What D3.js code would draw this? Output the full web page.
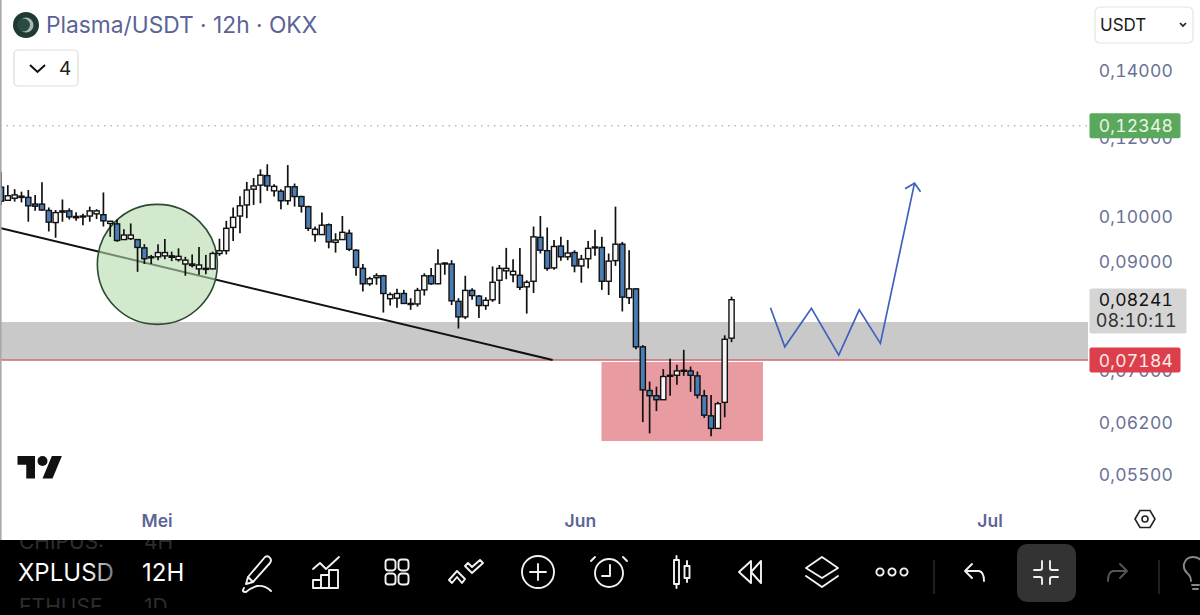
<!DOCTYPE html>
<html>
<head>
<meta charset="utf-8">
<title>Plasma/USDT 12h</title>
<script src="https://cdn.jsdelivr.net/npm/d3@7/dist/d3.min.js"></script>
<style>
  html, body { margin: 0; padding: 0; background: #fff; }
  svg { display: block; }
  text { font-family: Inter, "Noto Sans", sans-serif; }
</style>
</head>
<body>
<svg id="chart" width="1200" height="615"></svg>
<script>
// 12h candles for Plasma/USDT, oldest first
const opens = [
  .1069,.1037,.1042,.1044,.1044,.1028,.1028,.1013,.0985,.1009,
  .1012,.0996,.0998,.1000,.1005,.1003,.0983,.0982,.0947,.0949,
  .0947,.0929,.0908,.0910,.0912,.0909,.0904,.0895,.0892,.0885,
  .0884,.0885,.0917,.0923,.0974,.1000,.1026,.1064,.1074,.1098,
  .1060,.1059,.1036,.1070,.1046,.1022,.0958,.0958,.0980,.0941,
  .0947,.0961,.0924,.0886,.0855,.0867,.0871,.0826,.0827,.0836,
  .0815,.0816,.0843,.0871,.0855,.0895,.0895,.0821,.0792,.0842,
  .0831,.0813,.0824,.0862,.0881,.0873,.0872,.0849,.0860,.0952,
  .0923,.0887,.0933,.0910,.0919,.0891,.0906,.0930,.0930,.0860,
  .0902,.0937,.0828,.0845,.0739,.0668,.0660,.0654,.0691,.0692,
  .0699,.0699,.0691,.0660,.0630,.0612,.0650,.0754];
const highs = [
  .1107,.1074,.1064,.1058,.1062,.1050,.1081,.1020,.1014,.1039,
  .1018,.1009,.1005,.1022,.1016,.1056,.0989,.0992,.0970,.0983,
  .0947,.0937,.0914,.0937,.0948,.0921,.0928,.0910,.0915,.0931,
  .0914,.0921,.0949,.0989,.1020,.1047,.1082,.1092,.1114,.1127,
  .1076,.1064,.1125,.1078,.1048,.1024,.0976,.1008,.0983,.0961,
  .1000,.0969,.0926,.0895,.0869,.0876,.0873,.0838,.0845,.0843,
  .0827,.0847,.0876,.0887,.0926,.0898,.0903,.0827,.0871,.0846,
  .0833,.0829,.0890,.0893,.0929,.0905,.0929,.0862,.0976,.1000,
  .0974,.0946,.0953,.0946,.0924,.0914,.0944,.0969,.0953,.0917,
  .1022,.0942,.0924,.0846,.0742,.0682,.0674,.0702,.0719,.0709,
  .0734,.0706,.0698,.0669,.0661,.0651,.0759,.0830];
const lows = [
  .1026,.1036,.1034,.1032,.0987,.1012,.1012,.0965,.0951,.0987,
  .0992,.0989,.0979,.0987,.0993,.0976,.0953,.0942,.0946,.0946,
  .0879,.0895,.0895,.0903,.0905,.0901,.0900,.0871,.0888,.0873,
  .0874,.0884,.0912,.0915,.0944,.0961,.0995,.1026,.1030,.1060,
  .1046,.1016,.1026,.1022,.1008,.0966,.0942,.0957,.0928,.0919,
  .0946,.0922,.0871,.0840,.0851,.0853,.0800,.0813,.0809,.0816,
  .0805,.0811,.0832,.0853,.0854,.0873,.0814,.0771,.0788,.0824,
  .0790,.0805,.0820,.0816,.0864,.0858,.0843,.0798,.0837,.0917,
  .0881,.0883,.0902,.0903,.0878,.0857,.0886,.0912,.0843,.0833,
  .0891,.0802,.0816,.0735,.0621,.0605,.0637,.0655,.0660,.0677,
  .0691,.0666,.0656,.0627,.0601,.0612,.0628,.0747];
const closes = [
  .1035,.1048,.1050,.1047,.1024,.1023,.1014,.0986,.1008,.1012,
  .0998,.0999,.1000,.1012,.1012,.0989,.0988,.0945,.0957,.0957,
  .0930,.0906,.0910,.0919,.0919,.0912,.0911,.0903,.0895,.0893,
  .0886,.0917,.0923,.0972,.0997,.1024,.1062,.1072,.1099,.1072,
  .1071,.1036,.1070,.1046,.1023,.0972,.0970,.0979,.0942,.0946,
  .0963,.0926,.0888,.0855,.0865,.0871,.0836,.0834,.0836,.0817,
  .0817,.0842,.0871,.0855,.0895,.0897,.0822,.0792,.0842,.0832,
  .0813,.0823,.0858,.0886,.0886,.0880,.0848,.0858,.0953,.0924,
  .0886,.0932,.0910,.0918,.0891,.0905,.0928,.0931,.0860,.0901,
  .0937,.0829,.0845,.0739,.0669,.0660,.0654,.0690,.0692,.0699,
  .0700,.0692,.0661,.0631,.0612,.0648,.0752,.08241];

// Price axis and status labels
const priceTicks = [0.14, 0.12, 0.10, 0.09, 0.07, 0.062, 0.055];
const monthTicks = ["2025-05-01", "2025-06-01", "2025-07-01"];
const monthLabels = ["Mei", "Jun", "Jul"];
const targetPrice = 0.12348;
const supportPrice = 0.07184;
const lastPrice = 0.08241;
const countdown = "08:10:11";

// Drawings, positioned in bar numbers and prices
const zonePrices = [0.07827, 0.07184];
const boxBars = [87.95, 111.6];
const boxPrices = [0.07135, 0.05944];
const trendBars = [-0.15, 80.8];
const trendPrices = [0.09726, 0.07168];
const circleBar = 22.9;
const circlePrice = 0.08943;
const pathBars = [112.7, 114.8, 118.7, 122.7, 125.7, 128.8, 133.8];
const pathPrices = [0.0809, 0.0739, 0.0808, 0.0725, 0.0805, 0.0745, 0.1079];

const W = 1200, plotRight = 1088, plotBottom = 540;
const firstBar = Date.UTC(2025, 3, 19, 12);
const halfDay = 12 * 3600 * 1000;
const barDate = i => new Date(firstBar + i * halfDay);

const x = d3.scaleUtc().domain([barDate(0), new Date("2025-07-01T00:00:00Z")]).range([1, 991]);
const y = d3.scaleLog().domain([0.14, 0.055]).range([70.5, 474.6]);
const comma = v => d3.format(".5f")(v).replace(".", ",");
const bx = i => x(barDate(i));

const svg = d3.select("#chart");
const defs = svg.append("defs");
defs.append("clipPath").attr("id", "plotClip").append("rect")
  .attr("x", 0).attr("y", 0).attr("width", plotRight).attr("height", plotBottom);
defs.append("clipPath").attr("id", "rowClip").selectAll("rect")
  .data([[540, 10], [598, 10]]).join("rect")
  .attr("x", 0).attr("y", d => d[0]).attr("width", 200).attr("height", d => d[1]);
const fade = defs.append("linearGradient").attr("id", "symbolFade");
fade.append("stop").attr("offset", "0.72").attr("stop-color", "#fff");
fade.append("stop").attr("offset", "1").attr("stop-color", "#777");

svg.append("rect").attr("width", W).attr("height", 615).attr("fill", "#fff");

// Price axis
const yAxis = svg.append("g").attr("transform", "translate(1173,0)")
  .call(d3.axisLeft(y).tickValues(priceTicks).tickSize(0).tickPadding(0).tickFormat(comma));
yAxis.select(".domain").remove();
yAxis.selectAll("text").attr("fill", "#6a7196").attr("font-size", 17.5).attr("dy", "0.35em")
  .style("font-family", "Inter, sans-serif").style("letter-spacing", "0.2px")
  .style("font-variant-numeric", "tabular-nums");

// Month axis
const xAxis = svg.append("g").attr("transform", "translate(0,511)")
  .call(d3.axisBottom(x).tickValues(monthTicks.map(d => new Date(d + "T00:00:00Z")))
    .tickSize(0).tickPadding(0).tickFormat((d, i) => monthLabels[i]));
xAxis.select(".domain").remove();
xAxis.selectAll("text").attr("fill", "#5d6496").attr("font-size", 17.5).attr("font-weight", 600)
  .attr("dy", "0.9em").attr("dx", -1.5).style("font-family", "Inter, sans-serif");

const plot = svg.append("g").attr("clip-path", "url(#plotClip)");

// Supply zone and the support line below it
plot.append("rect").attr("x", 0).attr("width", plotRight)
  .attr("y", y(zonePrices[0])).attr("height", y(zonePrices[1]) - y(zonePrices[0]) + 1)
  .attr("fill", "#c9c9c9");
plot.append("line").attr("x1", 0).attr("x2", plotRight)
  .attr("y1", y(supportPrice) + 1).attr("y2", y(supportPrice) + 1)
  .attr("stroke", "#cf6a72").attr("stroke-width", 1.6);

// Dotted target level
plot.append("line").attr("x1", 0).attr("x2", plotRight)
  .attr("y1", y(targetPrice) + 1).attr("y2", y(targetPrice) + 1)
  .attr("stroke", "#8f9c86").attr("stroke-width", 1).attr("stroke-dasharray", "1.5,5");

// Demand box
plot.append("rect").attr("x", bx(boxBars[0])).attr("width", bx(boxBars[1]) - bx(boxBars[0]))
  .attr("y", y(boxPrices[0])).attr("height", y(boxPrices[1]) - y(boxPrices[0]))
  .attr("fill", "#e99ba2");

// Trend line and highlighted circle
plot.append("line")
  .attr("x1", bx(trendBars[0])).attr("x2", bx(trendBars[1]))
  .attr("y1", y(trendPrices[0])).attr("y2", y(trendPrices[1]))
  .attr("stroke", "#111").attr("stroke-width", 2);
plot.append("circle").attr("cx", bx(circleBar)).attr("cy", y(circlePrice)).attr("r", 60)
  .attr("fill", "#b5dbab").attr("fill-opacity", 0.6)
  .attr("stroke", "#2b4a30").attr("stroke-width", 1.6);

// Candles
const candles = plot.append("g").selectAll("g").data(opens.map((o, i) => i)).join("g");
candles.append("line")
  .attr("x1", i => bx(i)).attr("x2", i => bx(i))
  .attr("y1", i => y(highs[i])).attr("y2", i => y(lows[i]))
  .attr("stroke", "#111").attr("stroke-width", 1.7);
candles.append("rect")
  .attr("x", i => bx(i) - 2.6).attr("width", 5.2)
  .attr("y", i => y(Math.max(opens[i], closes[i])))
  .attr("height", i => Math.max(1, Math.abs(y(opens[i]) - y(closes[i]))))
  .attr("fill", i => closes[i] >= opens[i] ? "#f6f6f6" : "#4a7db5")
  .attr("stroke", "#111").attr("stroke-width", 1.4);

// Projected path with arrow head
const pathLine = d3.line().x((d, i) => bx(pathBars[i])).y(d => y(d));
plot.append("path").attr("d", pathLine(pathPrices))
  .attr("fill", "none").attr("stroke", "#3f62bd").attr("stroke-width", 1.7);
const tipX = bx(pathBars[pathBars.length - 1]), tipY = y(pathPrices[pathPrices.length - 1]);
plot.append("path")
  .attr("d", `M${tipX - 9.5},${tipY + 5.5}L${tipX},${tipY}L${tipX + 6},${tipY + 8.5}`)
  .attr("fill", "none").attr("stroke", "#3f62bd").attr("stroke-width", 1.7);

// Frame on the left edge
svg.append("rect").attr("x", 0).attr("y", 0).attr("width", 1.6).attr("height", 540).attr("fill", "#a9a9a9");

// Title row
svg.append("circle").attr("cx", 26).attr("cy", 25).attr("r", 13).attr("fill", "#1e3a34");
svg.append("circle").attr("cx", 26).attr("cy", 25).attr("r", 7.5).attr("fill", "#a9b8b2");
svg.append("circle").attr("cx", 23.5).attr("cy", 25).attr("r", 6.5).attr("fill", "#2a4a42");
svg.append("text").attr("x", 46).attr("y", 33).attr("font-size", 22.75).attr("fill", "#5c6396")
  .text("Plasma/USDT · 12h · OKX");

// Collapsed indicators button
svg.append("rect").attr("x", 14).attr("y", 50).attr("width", 64).attr("height", 36).attr("rx", 4)
  .attr("fill", "#fff").attr("stroke", "#dcdcdc").attr("stroke-width", 1.2);
svg.append("path").attr("d", "M30,65L37.5,72L45,65").attr("fill", "none").attr("stroke", "#111").attr("stroke-width", 2);
svg.append("text").attr("x", 59).attr("y", 75).attr("font-size", 19).attr("fill", "#222").text("4");

// Currency selector
svg.append("rect").attr("x", 1095).attr("y", 7).attr("width", 98).attr("height", 36).attr("rx", 5)
  .attr("fill", "#fff").attr("stroke", "#e4e4e4").attr("stroke-width", 1.2);
svg.append("text").attr("x", 1100).attr("y", 31).attr("font-size", 17).attr("fill", "#1a1a1a").text("USDT");
svg.append("path").attr("d", "M1180,23L1183,26L1186,23").attr("fill", "none").attr("stroke", "#222").attr("stroke-width", 1.7);

// Price badges
const badge = (bx0, top, w, h, fill) => svg.append("rect")
  .attr("x", bx0).attr("y", top).attr("width", w).attr("height", h).attr("rx", 2).attr("fill", fill);
const badgeText = (tx, ty, str, fill, size = 17.5) => svg.append("text")
  .attr("x", tx).attr("y", ty).attr("text-anchor", "end").attr("font-size", size)
  .attr("fill", fill).style("letter-spacing", "0.2px").style("font-variant-numeric", "tabular-nums").text(str);

badge(1089.5, y(targetPrice) - 11.5, 91, 25, "#5aa85c");
badgeText(1173, y(targetPrice) + 7.5, comma(targetPrice), "#e9f5e6");
badge(1089.5, y(supportPrice) - 11.5, 91, 25, "#dc3f4b");
badgeText(1173, y(supportPrice) + 7.5, comma(supportPrice), "#fbe9e8");
badge(1089.5, 288.5, 97, 45, "#d5d5d5");
badgeText(1173, 306, comma(lastPrice), "#111");
badgeText(1177, 327, countdown, "#333", 18);

// TradingView mark
const mark = svg.append("g").attr("transform", "translate(17.5,451) scale(1.25)").attr("fill", "#111");
mark.append("path").attr("d", "M14 22H7V11H0V4h14v18zM28 22h-8l7.5-18h8L28 22z");
mark.append("circle").attr("cx", 20).attr("cy", 8).attr("r", 4);

// Chart settings hexagon
svg.append("path").attr("d", "M1135,519L1140,510.5H1150L1155,519L1150,527.5H1140Z")
  .attr("fill", "none").attr("stroke", "#222").attr("stroke-width", 1.6);
svg.append("circle").attr("cx", 1145).attr("cy", 519).attr("r", 3).attr("fill", "none").attr("stroke", "#222").attr("stroke-width", 1.6);

// Bottom toolbar
svg.append("rect").attr("x", 0).attr("y", 540).attr("width", W).attr("height", 75).attr("fill", "#000");
const rows = svg.append("g").attr("clip-path", "url(#rowClip)").attr("fill", "#2e2e2e").attr("font-size", 21);
rows.append("text").attr("x", 19).attr("y", 549).text("CHIPUS:");
rows.append("text").attr("x", 144).attr("y", 549).text("4H");
rows.append("text").attr("x", 19).attr("y", 614).text("ETHUSE");
rows.append("text").attr("x", 144).attr("y", 614).text("1D");
svg.append("text").attr("x", 18).attr("y", 581).attr("font-size", 24).attr("fill", "url(#symbolFade)").text("XPLUSD");
svg.append("text").attr("x", 142).attr("y", 581).attr("font-size", 24).attr("fill", "#fff").text("12H");

const icon = (cx, color = "#f2f2f2") => svg.append("g").attr("transform", `translate(${cx},572)`)
  .attr("fill", "none").attr("stroke", color).attr("stroke-width", 1.9)
  .attr("stroke-linecap", "round").attr("stroke-linejoin", "round");

// Pen
const pen = icon(257);
pen.append("path").attr("d", "M-9,5L8,-15Q11,-17 13,-14Q15,-12 13,-9L-4,10L-11,12ZM-9,5L-4,10");
pen.append("path").attr("d", "M-13,16Q-16,20 -11,20Q-6,16 0,14Q8,13 14,19");
// Indicators
const ind = icon(326);
ind.append("path").attr("d", "M-13,-3L-6,-9L0,-3L13,-15");
ind.append("path").attr("d", "M-13,16V8H-5V16ZM-5,16V3H3V16ZM3,16V-2H12V16ZM-13,16H12");
// Layouts
const grid = icon(397);
[[-11.5, -12.5], [1.5, -12.5], [-11.5, 1.5], [1.5, 1.5]].forEach(p =>
  grid.append("rect").attr("x", p[0]).attr("y", p[1]).attr("width", 10).attr("height", 11).attr("rx", 3));
// Chevrons
const chev = icon(466);
chev.append("path").attr("d", "M-17,8L-9,-1L-1,7L-4,11L-9,5L-14,11ZM-1,-6L6,1L17,-9L14,-12L6,-5L2,-9Z");
// Add
const add = icon(538);
add.append("circle").attr("r", 16);
add.append("path").attr("d", "M-8,0H8M0,-8V8");
// Alarm
const alarm = icon(609);
alarm.append("circle").attr("cy", 1).attr("r", 14);
alarm.append("path").attr("d", "M1,-7V4H-7M-14,-15L-18,-11M14,-15L18,-11");
// Candles
const bars = icon(681);
bars.append("rect").attr("x", -7).attr("y", -12).attr("width", 5).attr("height", 24);
bars.append("path").attr("d", "M-4.5,-16V-12M-4.5,12V16M6,-11V-6M6,6V10");
bars.append("rect").attr("x", 3.5).attr("y", -6).attr("width", 5).attr("height", 12);
// Replay
const replay = icon(751);
replay.append("path").attr("d", "M0,-11L-12,0L0,11ZM10,-11L0,0L10,11Z");
// Layers
const layers = icon(822);
layers.append("path").attr("d", "M0,-15L16,-4L0,6L-16,-4Z");
layers.append("path").attr("d", "M-16,4L0,15L16,4");
// More
const more = icon(892);
[-12, 0, 12].forEach(dx => more.append("circle").attr("cx", dx).attr("r", 3.6));
// Toolbar dividers
[934, 1159].forEach(sx => svg.append("line").attr("x1", sx).attr("x2", sx).attr("y1", 560).attr("y2", 594)
  .attr("stroke", "#2c2c2c").attr("stroke-width", 1.5));
// Undo
const undo = icon(975);
undo.append("path").attr("d", "M-3,-8L-10,-1L-3,6M-10,-1H4Q9,0 9,9");
// Active exit-fullscreen tile
svg.append("rect").attr("x", 1017).attr("y", 544).attr("width", 59).attr("height", 58).attr("rx", 10).attr("fill", "#333");
const shrink = icon(1046);
shrink.append("path").attr("d", "M-4,-11V-4Q-4,-2 -6,-2H-12M4,-11V-4Q4,-2 6,-2H12M-12,5H-6Q-4,5 -4,7V12M12,5H6Q4,5 4,7V12");
// Redo
const redo = icon(1117, "#555");
redo.append("path").attr("d", "M3,-8L10,-1L3,6M10,-1H-4Q-9,0 -9,9");
// Bulb, cut by the window edge
const bulb = icon(1193, "#888");
bulb.append("path").attr("d", "M-2,9Q-2,4 -6,1Q-10,-3 -9,-8Q-7,-15 0,-15Q8,-15 10,-8M-1,13H6M0,17H5");
</script>
</body>
</html>
